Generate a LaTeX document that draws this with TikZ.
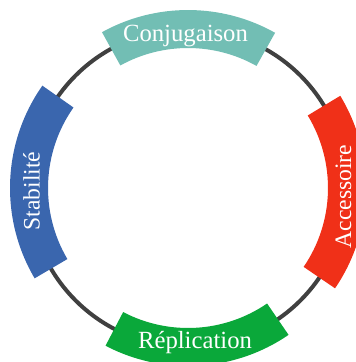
\documentclass[tikz,border=0pt]{standalone}
\usepackage{fontspec}
\setmainfont{Liberation Serif}
\definecolor{ringgray}{HTML}{404040}
\definecolor{conjcol}{HTML}{72BEB4}
\definecolor{stabcol}{HTML}{3A66AE}
\definecolor{acccol}{HTML}{F03018}
\definecolor{repcol}{HTML}{0AA83A}
\tikzset{
  band/.style={fill=#1, draw=none},
  hlabel/.style={text=white, inner sep=0pt, anchor=base, font=\fontsize{24.7}{28}\selectfont},
  vlabel/.style={text=white, inner sep=0pt, anchor=base, rotate=90, font=\fontsize{23.6}{28}\selectfont},
}
\begin{document}
\begin{tikzpicture}[x=1pt,y=1pt]
\useasboundingbox (0,0) rectangle (356,-362);
\clip (0,0) rectangle (356,-362);
\coordinate (c) at (188,-188);
\begin{scope}[shift={(c)}]
  \draw[ringgray, line width=4pt] (0,0) circle[radius=159];
  % Conjugaison
  \fill[band=conjcol] (60.7:178) arc[start angle=60.7, end angle=118.9, radius=178]
     -- (118.9:140) arc[start angle=118.9, end angle=60.7, radius=140] -- cycle;
  % Stabilite
  \fill[band=stabcol] (144.9:178) arc[start angle=144.9, end angle=210.5, radius=178]
     -- (210.5:140) arc[start angle=210.5, end angle=144.9, radius=140] -- cycle;
  % Replication
  \fill[band=repcol] (242.4:178) arc[start angle=242.4, end angle=304.4, radius=178]
     -- (304.4:140) arc[start angle=304.4, end angle=242.4, radius=140] -- cycle;
  % Accessoire
  \fill[band=acccol] (-34.3:178) arc[start angle=-34.3, end angle=31.2, radius=178]
     -- (31.2:140) arc[start angle=31.2, end angle=-34.3, radius=140] -- cycle;
\end{scope}
\node[hlabel] (conj) at (185.5,-41.7) {Conjugaison};
\node[hlabel] (rep) at (195,-348) {Réplication};
\node[vlabel] (stab) at (39.5,-191) {Stabilité};
\node[vlabel] (acc) at (351,-196.5) {Accessoire};
\end{tikzpicture}
\end{document}
